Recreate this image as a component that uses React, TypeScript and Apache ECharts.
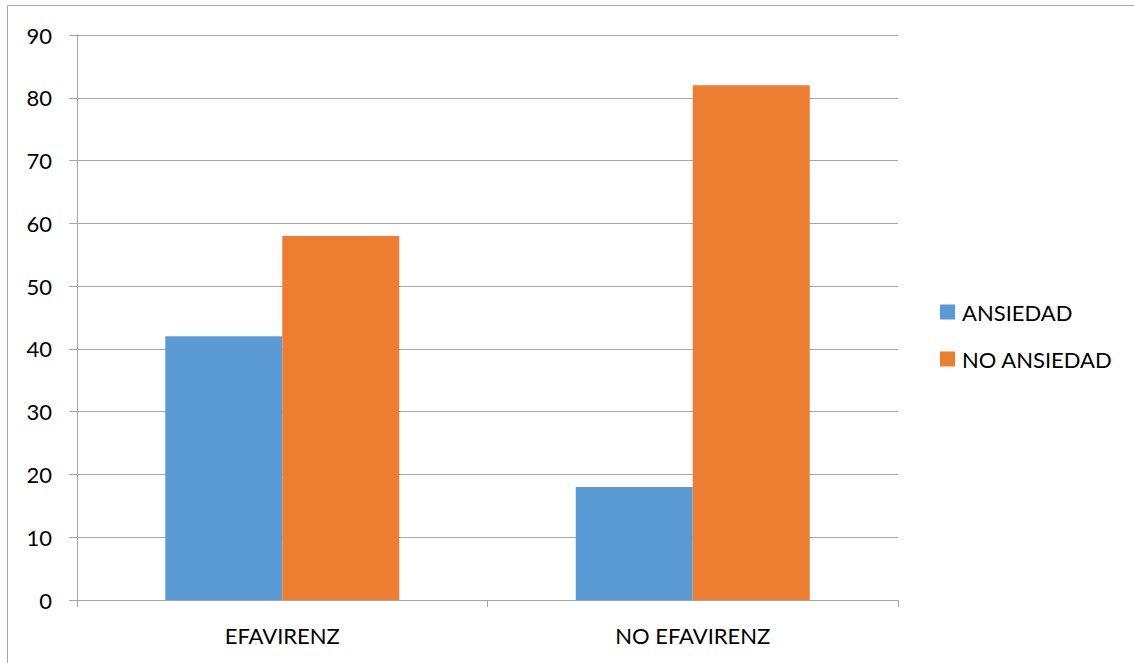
import React, { useEffect, useRef } from "react";
import * as echarts from "echarts";

const categories = ["EFAVIRENZ", "NO EFAVIRENZ"];
const ansiedad = [42, 18];
const noAnsiedad = [58, 82];
const seriesNames = ["ANSIEDAD", "NO ANSIEDAD"];

export default function App() {
  const ref = useRef<HTMLDivElement>(null);
  useEffect(() => {
    if (!ref.current) return;
    const chart = echarts.init(ref.current, null, { renderer: "svg" });
    const font = "Lato, 'Open Sans', sans-serif";
    const grey = "#A6A6A6";
    chart.setOption({
      animation: false,
      backgroundColor: "#fff",
      textStyle: { fontFamily: font },
      graphic: [
        {
          type: "rect",
          shape: { x: 7.5, y: 5.5, width: 1140, height: 700 },
          style: { fill: "none", stroke: "#A6A6A6", lineWidth: 1 },
          silent: true,
        },
      ],
      grid: { left: 77, right: 236, top: 35, bottom: 63, containLabel: false },
      legend: {
        orient: "vertical",
        left: 940,
        top: 299,
        padding: 0,
        itemWidth: 15,
        itemHeight: 15,
        itemGap: 21,
        icon: "rect",
        data: seriesNames,
        textStyle: { fontSize: 22, color: "#000", fontFamily: font, lineHeight: 26, padding: [0, 0, 0, 2] },
      },
      xAxis: {
        type: "category",
        data: categories,
        axisLine: { lineStyle: { color: grey, width: 1 } },
        axisTick: { show: true, length: 7, alignWithLabel: false, lineStyle: { color: grey } },
        axisLabel: { color: "#000", fontSize: 22, margin: 24, fontFamily: font },
      },
      yAxis: {
        type: "value",
        min: 0,
        max: 90,
        interval: 10,
        axisLine: { show: true, lineStyle: { color: grey, width: 1 } },
        axisTick: { show: true, length: 8, lineStyle: { color: grey } },
        splitLine: { lineStyle: { color: grey, width: 1 } },
        axisLabel: { color: "#000", fontSize: 22, margin: 25, fontFamily: font },
      },
      series: [
        {
          name: seriesNames[0],
          type: "bar",
          data: ansiedad,
          barGap: "0%",
          barCategoryGap: "43%",
          itemStyle: { color: "#5B9BD5" },
        },
        {
          name: seriesNames[1],
          type: "bar",
          data: noAnsiedad,
          barGap: "0%",
          barCategoryGap: "43%",
          itemStyle: { color: "#ED7D31" },
        },
      ],
    });
    return () => chart.dispose();
  }, []);
  return (
    <div
      ref={ref}
      style={{ position: "fixed", left: 0, top: 0, width: 1134, height: 663 }}
    />
  );
}
